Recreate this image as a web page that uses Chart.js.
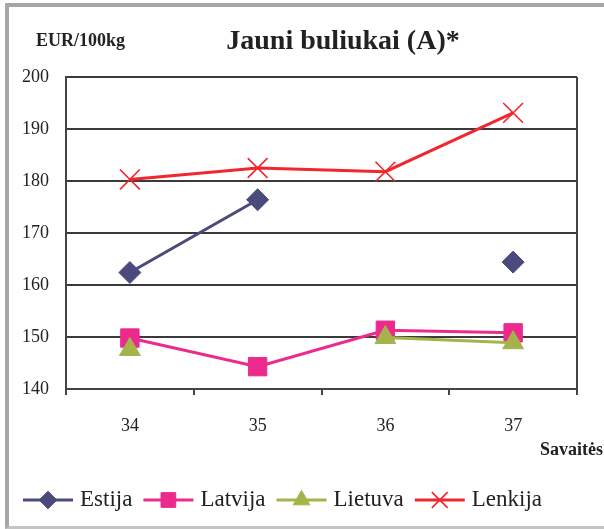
<!DOCTYPE html>
<html>
<head>
<meta charset="utf-8">
<script src="https://cdn.jsdelivr.net/npm/chart.js@4.4.1/dist/chart.umd.min.js"></script>
<style>
  body { margin: 0; background: #fff; }
  #wrap { position: relative; width: 604px; height: 529px; overflow: hidden; }
  #frame {
    position: absolute; left: 5px; top: 3px; width: 640px; height: 519px;
    border-left: 4px solid #a6a6a6; border-top: 4px solid #a6a6a6; border-bottom: 3px solid #c4c4c4;
  }
  canvas { position: absolute; left: 0; top: 0; }
</style>
</head>
<body>
<div id="wrap">
  <div id="frame"></div>
  <canvas id="chart" width="604" height="529"></canvas>
</div>
<script>
// weeks and prices, EUR/100kg
const weeks = ["34", "35", "36", "37"];
const estija = [162.4, 176.4, null, 164.4];
const latvija = [149.8, 144.3, 151.3, 150.8];
const lietuva = [147.6, null, 149.9, 148.9];
const lenkija = [180.3, 182.5, 181.8, 193.1];

const serif = "'Liberation Serif', 'Times New Roman', serif";

// extra texts + legend with line and marker
const extras = {
  id: "extras",
  afterDraw(chart) {
    const ctx = chart.ctx;
    const area = chart.chartArea;
    ctx.save();
    ctx.fillStyle = "#222";
    ctx.textBaseline = "middle";

    ctx.font = "bold 18px " + serif;
    ctx.textAlign = "left";
    ctx.fillText("EUR/100kg", 36, 41);

    ctx.font = "bold 28px " + serif;
    ctx.textAlign = "center";
    ctx.fillText("Jauni buliukai (A)*", 343, 42);

    ctx.font = "bold 18px " + serif;
    ctx.textAlign = "right";
    ctx.fillText("Savaitės", 603, 450);

    // right edge of the plot
    ctx.strokeStyle = "#444";
    ctx.lineWidth = 2;
    ctx.beginPath();
    ctx.moveTo(area.right, area.top);
    ctx.lineTo(area.right, area.bottom);
    ctx.stroke();

    // legend
    let x = 23;
    const y = 500;
    ctx.font = "23px " + serif;
    ctx.textAlign = "left";
    chart.data.datasets.forEach((ds) => {
      ctx.strokeStyle = ds.borderColor;
      ctx.lineWidth = 3;
      ctx.beginPath();
      ctx.moveTo(x, y);
      ctx.lineTo(x + 50, y);
      ctx.stroke();
      ctx.fillStyle = ds.pointBackgroundColor;
      ctx.strokeStyle = ds.pointBorderColor;
      ctx.lineWidth = ds.pointBorderWidth;
      Chart.helpers.drawPoint(ctx, {
        pointStyle: ds.pointStyle,
        radius: ds.pointRadius * 0.8,
        rotation: 0,
        borderWidth: ds.pointBorderWidth
      }, x + 25, y);
      ctx.fillStyle = "#222";
      ctx.fillText(ds.label, x + 57, y);
      x += 57 + ctx.measureText(ds.label).width + 11;
    });
    ctx.restore();
  }
};

function series(label, data, color, style, radius, order, borderW) {
  return {
    label: label,
    data: data,
    order: order,
    borderColor: color,
    backgroundColor: color,
    pointBackgroundColor: color,
    pointBorderColor: color,
    pointStyle: style,
    pointRadius: radius,
    pointHoverRadius: radius,
    pointBorderWidth: borderW || 1,
    borderWidth: 3,
    tension: 0,
    spanGaps: false
  };
}

const chart = new Chart(document.getElementById("chart"), {
  type: "line",
  data: {
    labels: weeks,
    datasets: [
      series("Estija", estija, "#4b4a7c", "rectRot", 11, 0),
      series("Latvija", latvija, "#ec2a8e", "rect", 13, 2),
      series("Lietuva", lietuva, "#a5b44a", "triangle", 12, 1),
      series("Lenkija", lenkija, "#f1262e", "crossRot", 14, 3, 1.6)
    ]
  },
  options: {
    responsive: false,
    animation: false,
    layout: { padding: { left: 0, right: 27, top: 77, bottom: 0 } },
    plugins: {
      legend: { display: false },
      title: { display: false },
      tooltip: { enabled: false }
    },
    scales: {
      x: {
        offset: true,
        afterFit: (s) => { s.height = 140; },
        grid: {
          offset: true,
          drawOnChartArea: false,
          drawTicks: true,
          tickLength: 6,
          color: "#444",
          lineWidth: 2
        },
        border: { display: true, color: "#444", width: 2 },
        ticks: { color: "#222", font: { family: serif, size: 18 }, padding: 20 }
      },
      y: {
        min: 140,
        max: 200,
        afterFit: (s) => { s.width = 66; },
        grid: { color: "#3a3a3a", lineWidth: 2, drawTicks: false },
        border: { display: true, color: "#444", width: 2 },
        ticks: { stepSize: 10, color: "#222", font: { family: serif, size: 18 }, padding: 17 }
      }
    }
  },
  plugins: [extras]
});
</script>
</body>
</html>
